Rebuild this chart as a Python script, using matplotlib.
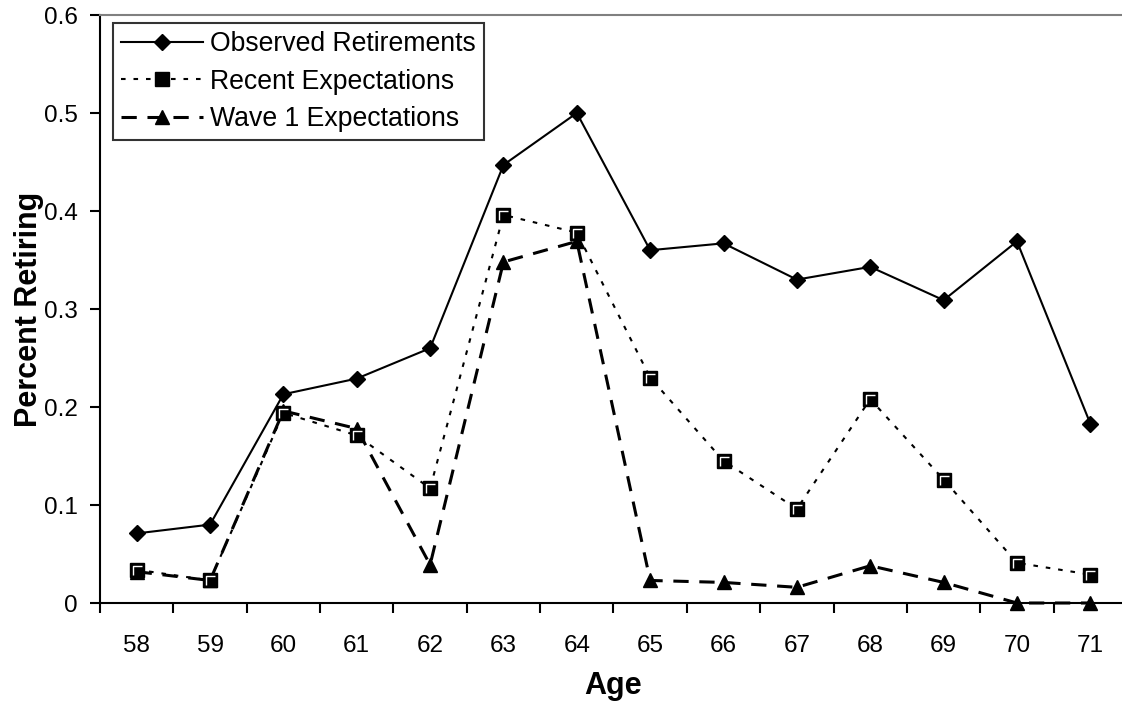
import numpy as np
import matplotlib
matplotlib.use("Agg")
import matplotlib.pyplot as plt
from matplotlib.path import Path

ages = [58, 59, 60, 61, 62, 63, 64, 65, 66, 67, 68, 69, 70, 71]
observed = [0.071, 0.080, 0.213, 0.229, 0.260, 0.447, 0.500,
            0.360, 0.367, 0.330, 0.343, 0.309, 0.369, 0.183]
recent = [0.034, 0.023, 0.194, 0.171, 0.117, 0.396, 0.378,
          0.230, 0.145, 0.096, 0.208, 0.126, 0.041, 0.029]
wave1 = [0.032, 0.023, 0.196, 0.178, 0.039, 0.348, 0.369,
         0.023, 0.021, 0.016, 0.038, 0.021, 0.0, 0.0]
yticks = [0, 0.1, 0.2, 0.3, 0.4, 0.5, 0.6]
ytick_labels = ['0', '0.1', '0.2', '0.3', '0.4', '0.5', '0.6']

plt.rcParams['font.family'] = ['Liberation Sans', 'DejaVu Sans']

W, H = 1122, 703
fig = plt.figure(figsize=(W / 100, H / 100), dpi=100)
left, right, bottom, top = 100, 1127, 100, 688
ax = fig.add_axes([left / W, bottom / H, (right - left) / W, (top - bottom) / H])

x = np.arange(len(ages))

# white "highlight" corner drawn on top of the square markers
corner = Path([(-0.6, -0.7), (-0.6, 0.6), (0.7, 0.6)],
              [Path.MOVETO, Path.LINETO, Path.LINETO])

ax.plot(x, observed, color='black', lw=1.5, marker='D', ms=8,
        mfc='black', mec='black', label='Observed Retirements', zorder=3)
ax.plot(x, recent, color='black', lw=1.5, ls=(0, (2.2, 3.8)), marker='s',
        ms=9.5, mfc='black', mec='black', label='Recent Expectations', zorder=3)
ax.plot(x, recent, ls='none', marker=corner, ms=7.5, mfc='none', mec='white',
        mew=1.0, zorder=4)
ax.plot(x, wave1, color='black', lw=2.2, ls=(0, (5, 3.5)), marker='^', ms=10.5,
        mfc='black', mec='black', label='Wave 1 Expectations', zorder=3,
        clip_on=False)

ax.set_xlim(-0.5, len(ages) - 0.5)
ax.set_ylim(0, 0.6)
ax.set_yticks(yticks)
ax.set_yticklabels(ytick_labels)
# category boundaries carry the tick marks, labels sit at the centres
ax.set_xticks(np.arange(len(ages) + 1) - 0.5)
ax.set_xticklabels([])
ax.set_xticks(x, minor=True)
ax.set_xticklabels([str(a) for a in ages], minor=True)
ax.tick_params(axis='x', which='minor', length=0, labelsize=17.5, pad=23)
ax.tick_params(axis='x', which='major', length=7, width=1.5, direction='out')
ax.tick_params(axis='y', length=7, width=1.5, direction='out', labelsize=17.5, pad=9)

ax.spines['right'].set_visible(False)
ax.spines['top'].set_color('#808080')
ax.spines['top'].set_linewidth(1.5)
ax.spines['left'].set_linewidth(1.5)
ax.spines['bottom'].set_linewidth(1.5)

ax.set_xlabel('Age', fontsize=22, fontweight='bold')
ax.set_ylabel('Percent Retiring', fontsize=22, fontweight='bold')
ax.xaxis.set_label_coords(0.5, -0.116)
ax.yaxis.set_label_coords(-0.0545, 0.5)

leg = ax.legend(loc='upper left', bbox_to_anchor=(113 / W, 680 / H),
                bbox_transform=fig.transFigure, fontsize=19.2, frameon=True,
                fancybox=False, borderaxespad=0, handlelength=3.07,
                handletextpad=0.26, labelspacing=0.44, borderpad=0.3)
leg.get_frame().set_edgecolor('black')
leg.get_frame().set_linewidth(1.5)

fig.savefig('out.png', dpi=100)
